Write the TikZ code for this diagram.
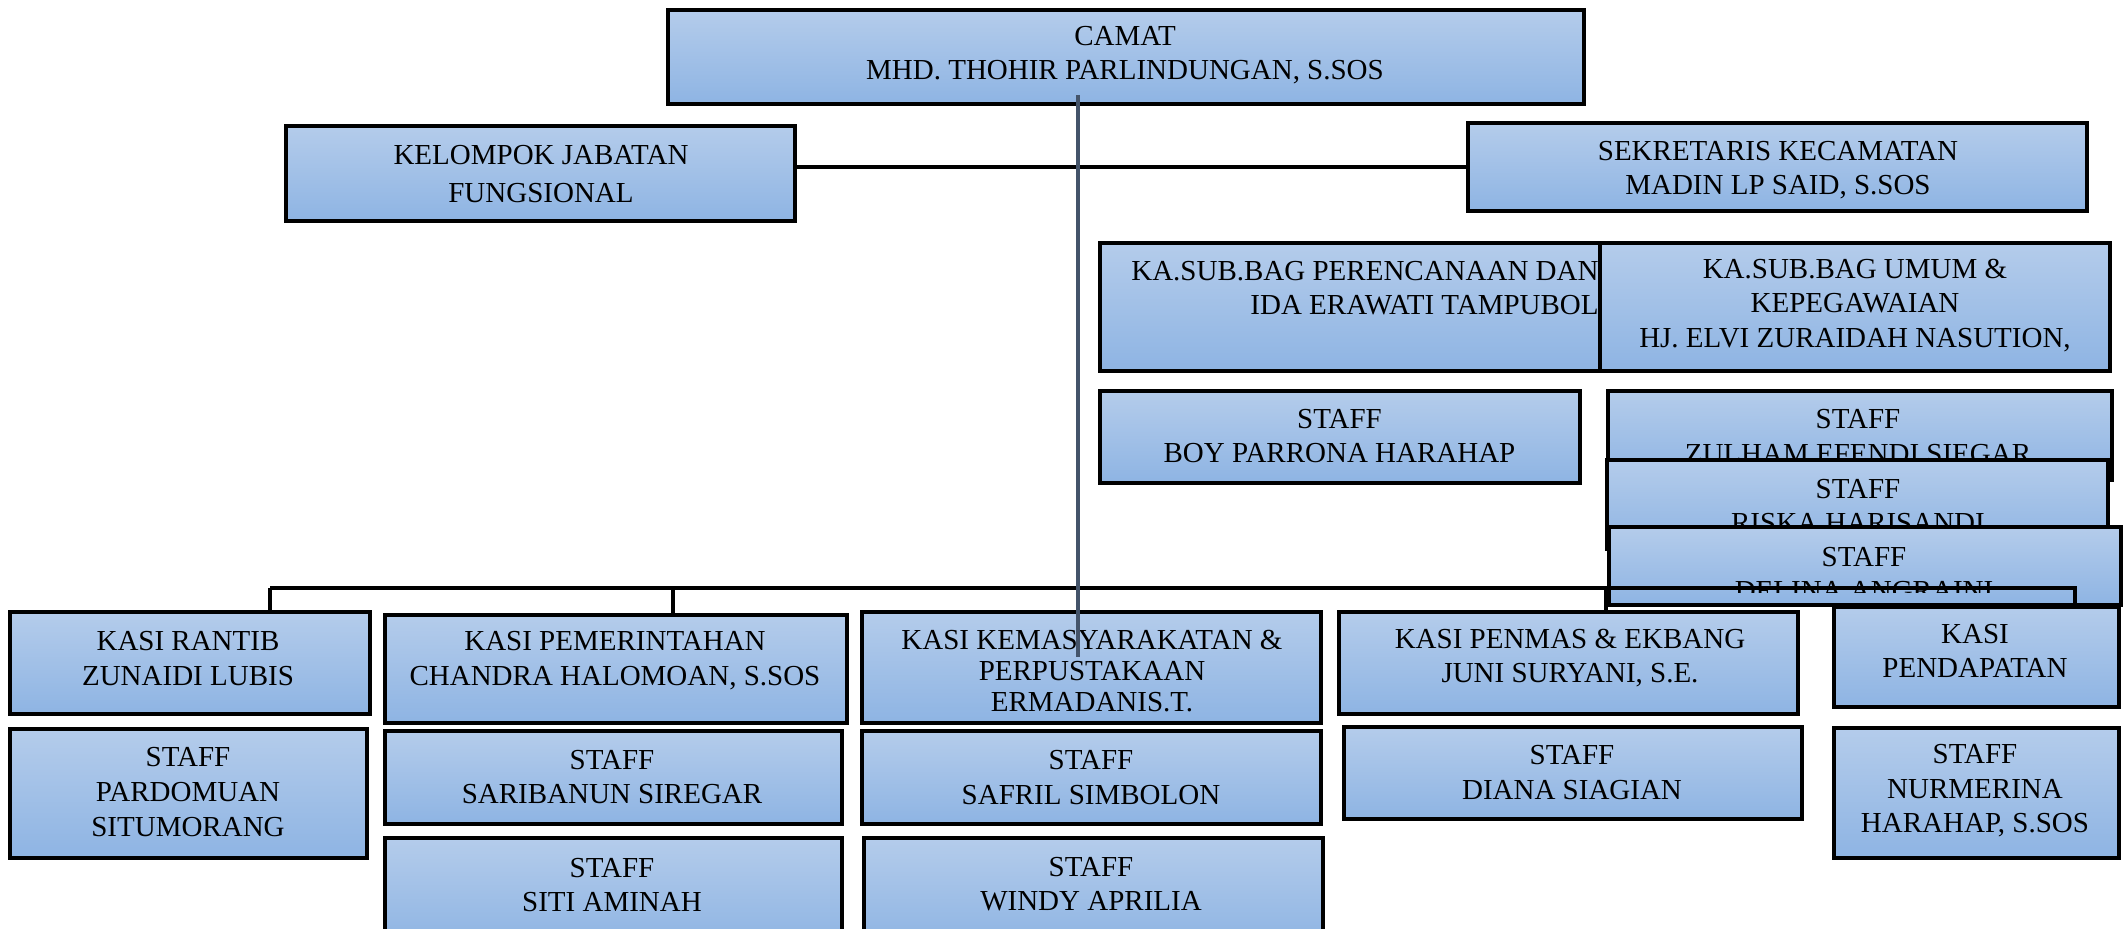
\documentclass[tikz,border=0pt]{standalone}
\usepackage{fontspec}
\setmainfont{Liberation Serif}
\definecolor{gtop}{RGB}{180,204,235}
\definecolor{gbot}{RGB}{142,180,227}
\definecolor{slategray}{RGB}{68,84,106}
\newcommand\obox[5]{\node[obox, minimum width={(#4-#2)*0.5pt}, minimum height={(#5-#3)*0.5pt}] (#1) at (#2,#3) {};}
\tikzset{
  obox/.style={draw=black, line width=1.6pt, top color=gtop, bottom color=gbot, anchor=north west, inner sep=0pt, outer sep=0pt},
  txt/.style={align=center, font=\fontsize{14.5}{17.3}\selectfont, inner sep=0pt},
  conn/.style={line width=1.8pt, draw=black},
  slateline/.style={line width=1.8pt, draw=slategray}
}
\begin{document}
\begin{tikzpicture}[x=0.5pt,y=-0.5pt]
\useasboundingbox (0,0) rectangle (2125,929);
\clip (0,0) rectangle (2125,929);
% top
\obox{camat}{668}{10}{1584}{104}
\node[txt] (camatT) at (1125,55) {CAMAT\\MHD. THOHIR PARLINDUNGAN, S.SOS};
\obox{kel}{286}{126}{795}{221}
\node[txt, font=\fontsize{14.5}{19}\selectfont] (kelT) at (541,174) {KELOMPOK JABATAN\\FUNGSIONAL};
\obox{sek}{1468}{123}{2087}{211}
\node[txt] (sekT) at (1778,170) {SEKRETARIS KECAMATAN\\MADIN LP SAID, S.SOS};
\draw[conn] (sek.west) -- (sek.west -| kel.east);
% sub bag
\obox{perenc}{1100}{243}{1603}{371}
\node[txt, align=right, anchor=east] (perencT) at (1599,288) {KA.SUB.BAG PERENCANAAN DAN\\IDA ERAWATI TAMPUBOL};
\obox{umum}{1600}{243}{2110}{371}
\node[txt] (umumT) at (1855,305.5) {KA.SUB.BAG UMUM \&\\KEPEGAWAIAN\\HJ. ELVI ZURAIDAH NASUTION,};
\obox{boy}{1100}{391}{1580}{483}
\node[txt] (boyT) at (1339.5,436) {STAFF\\BOY PARRONA HARAHAP};
\obox{zul}{1608}{391}{2112}{480}
\node[txt] (zulT) at (1858,436.5) {STAFF\\ZULHAM EFENDI SIEGAR};
\obox{riska}{1607}{460}{2108}{549}
\node[txt] (riskaT) at (1858,506) {STAFF\\RISKA HARISANDI};
\obox{delina}{1609}{527}{2121}{605}
\begin{scope}
\clip (1609,527) rectangle (2121,593);
\node[txt] (delinaT) at (1864,574) {STAFF\\DELINA ANGRAINI};
\end{scope}
% kasi row
\obox{rantib}{10}{612}{370}{714}
\node[txt] (rantibT) at (188,658.5) {KASI RANTIB\\ZUNAIDI LUBIS};
\obox{pard}{10}{729}{367}{858}
\node[txt] (pardT) at (188,792) {STAFF\\PARDOMUAN\\SITUMORANG};
\obox{pemer}{385}{615}{847}{723}
\node[txt] (pemerT) at (615,660.5) {KASI PEMERINTAHAN\\CHANDRA HALOMOAN, S.SOS};
\obox{sarib}{385}{731}{842}{824}
\node[txt] (saribT) at (612,777) {STAFF\\SARIBANUN SIREGAR};
\obox{siti}{385}{838}{842}{945}
\node[txt] (sitiT) at (612,885) {STAFF\\SITI AMINAH};
\obox{kemas}{862}{612}{1321}{723}
\node[txt, font=\fontsize{14.5}{15.5}\selectfont] (kemasT) at (1092,671) {KASI KEMASYARAKATAN \&\\PERPUSTAKAAN\\ERMADANIS.T.};
\obox{safril}{862}{731}{1321}{824}
\node[txt] (safrilT) at (1091,777.5) {STAFF\\SAFRIL SIMBOLON};
\obox{windy}{864}{838}{1323}{945}
\node[txt] (windyT) at (1091,884) {STAFF\\WINDY APRILIA};
\obox{penmas}{1339}{612}{1798}{714}
\node[txt] (penmasT) at (1570,658) {KASI PENMAS \& EKBANG\\JUNI SURYANI, S.E.};
\obox{diana}{1344}{727}{1802}{819}
\node[txt] (dianaT) at (1572,772.5) {STAFF\\DIANA SIAGIAN};
\obox{pend}{1834}{607}{2119}{707}
\node[txt] (pendT) at (1975,651) {KASI\\PENDAPATAN};
\obox{nurm}{1834}{728}{2119}{858}
\node[txt] (nurmT) at (1975,791) {STAFF\\NURMERINA\\HARAHAP, S.SOS};
% bus
\coordinate (busL) at (270,588);
\coordinate (busR) at (2075,588);
\coordinate (t2) at (673,588);
\coordinate (t3) at (1606,588);
\draw[conn] (busL) -- (busR) -- (busR |- pend.north);
\draw[conn] (busL) -- (busL |- rantib.north);
\draw[conn] (t2) -- (t2 |- pemer.north);
\draw[conn] (t3) -- (t3 |- penmas.north);
% slate line from camat
\coordinate (sA) at (1078,95);
\coordinate (sB) at (1078,657);
\draw[slateline] (sA) -- (sB);
\end{tikzpicture}
\end{document}
